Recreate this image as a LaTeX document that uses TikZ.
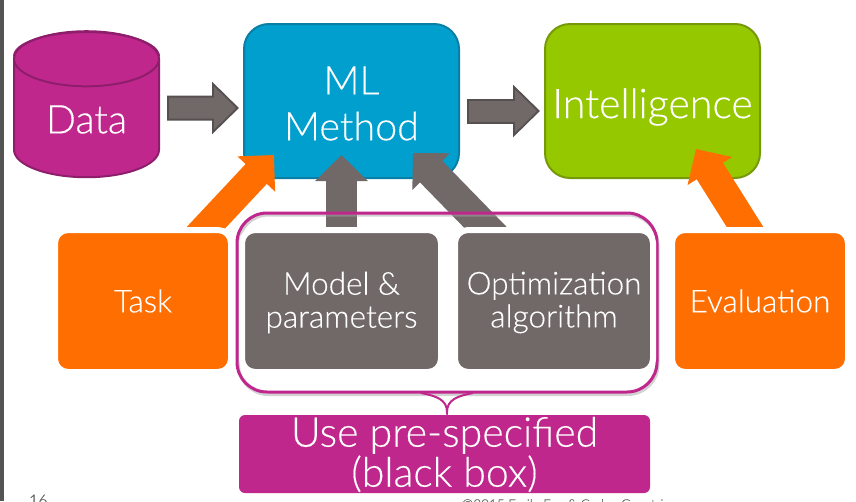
\documentclass[tikz,border=0pt]{standalone}
\usepackage{fontspec}
\usepackage{graphicx}
\setmainfont{Lato}[UprightFont=* Light,UprightFeatures={FakeBold=0.25}]
\usetikzlibrary{arrows.meta,shapes.geometric}
\definecolor{mag}{HTML}{C0278D}
\definecolor{magdark}{HTML}{8E1E6B}
\definecolor{orng}{HTML}{FF6E00}
\definecolor{grn}{HTML}{96C800}
\definecolor{grndark}{HTML}{76990A}
\definecolor{blu}{HTML}{009FCE}
\definecolor{bludark}{HTML}{0A7FA5}
\definecolor{gry}{HTML}{716868}
\definecolor{grydark}{HTML}{565051}
\newcommand{\lowertext}[2]{\raisebox{-#1}[\height][\depth]{#2}}
\tikzset{
  x=1pt,y=-1pt,
  every node/.style={inner sep=0pt,outer sep=0pt,text=white,align=center},
  bigbox/.style={rounded corners=25pt,minimum width=215pt,minimum height=154pt,line width=2pt,font=\fontsize{39.5}{46}\selectfont},
  lowbox/.style={rounded corners=13pt,draw=white,line width=6pt,minimum height=142pt,font=\fontsize{31.5}{33}\selectfont},
  greyout/.style={draw=grydark,line width=25pt,-{Triangle[length=27pt,width=51pt]}},
  greyin/.style={draw=gry,fill=gry,line width=21pt,shorten >=3pt,-{Triangle[length=22pt,width=42pt]}},
  plainarrow/.style={line width=31pt,-{Triangle[length=26pt,width=51pt]}}
}
\begin{document}
\begin{tikzpicture}
\useasboundingbox (0,0) rectangle (856,501);
\fill[white] (0,0) rectangle (856,501);
\fill[black!67] (0,0) rectangle (4,501);
% main shapes
\node[cylinder,shape border rotate=90,aspect=0.68,draw=magdark,fill=mag,line width=2pt,minimum width=145pt,minimum height=146pt,font=\fontsize{39.5}{46}\selectfont] (data) at (86.5,118.5) {\lowertext{1pt}{Data}};
\draw[magdark,line width=2pt] ([shift={(-72.5,-62)}]data.center) arc[start angle=180,end angle=360,x radius=72.5,y radius=24.5];
\node[bigbox,draw=bludark,fill=blu] (ml) at (351.5,101) {\lowertext{2.5pt}{ML}\\\lowertext{2.5pt}{Method}};
\node[bigbox,draw=grndark,fill=grn,font=\fontsize{41}{46}\selectfont] (intel) at (652.5,101) {\lowertext{6pt}{Intelligence}};
% helper named anchors for the hidden boxes
\node[minimum width=170pt,minimum height=136pt] (task) at (143,301) {};
\node[minimum width=193pt,minimum height=136pt] (model) at (341.5,301) {};
\node[minimum width=192pt,minimum height=136pt] (opt) at (554,301) {};
\node[minimum width=170pt,minimum height=136pt] (eval) at (760,301) {};
% connectors
\draw[greyout] ([shift={(8,-10.5)}]data.east) -- ([shift={(-5,7)}]ml.west);
\draw[greyin] ([shift={(10,-10.5)}]data.east) -- ([shift={(-5,7)}]ml.west);
\draw[greyout] ([shift={(8,10)}]ml.east) -- ([shift={(-5,10)}]intel.west);
\draw[greyin] ([shift={(10,10)}]ml.east) -- ([shift={(-5,10)}]intel.west);
\draw[orng,line width=29pt,-{Triangle[length=26pt,width=50pt]}] ([shift={(42,17)}]task.north) -- ([shift={(-77.5,-23)}]ml.south);
\draw[orng,plainarrow] ([shift={(-0.5,17)}]eval.north) -- ([shift={(43.5,-29)}]intel.south);
\draw[gry,plainarrow] (model.center) -- ([shift={(0,-23)}]ml.south -| model.north);
\draw[gry,plainarrow] ([shift={(-46.5,17)}]opt.north) -- ([shift={(61.5,-25)}]ml.south);
% group outline with shadow
\draw[black!35,line width=3pt,opacity=.5,rounded corners=30pt] (238.5,215) rectangle (658,394.5);
\draw[mag,line width=3pt,rounded corners=30pt] (237,213) rectangle (657,392);
\coordinate (groupsouth) at (447,392);
% lower boxes, on top of the connector tails
\node[lowbox,minimum width=176pt,fill=orng] at (task) {Task};
\node[lowbox,minimum width=199pt,fill=gry] at (model) {\lowertext{1.5pt}{Model \&}\\\lowertext{1.5pt}{parameters}};
\node[lowbox,minimum width=198pt,fill=gry] at (opt) {\lowertext{1.5pt}{Optimization}\\\lowertext{1.5pt}{algorithm}};
\node[lowbox,minimum width=176pt,fill=orng] at (eval) {Evaluation};
% brace and caption
\node[fill=mag,rounded corners=6pt,minimum width=411pt,minimum height=78pt,font=\fontsize{41}{41}\selectfont] (box) at (444.5,454) {\lowertext{1pt}{Use pre-specified}\\(black box)};
\draw[mag,line width=2pt] ([shift={(-26,1)}]groupsouth) .. controls ([shift={(-10,4)}]groupsouth) and ([shift={(0,8)}]groupsouth) .. ([shift={(0,20)}]groupsouth) .. controls ([shift={(0,8)}]groupsouth) and ([shift={(10,4)}]groupsouth) .. ([shift={(26,1)}]groupsouth);
% footer
\node[text=black!60,font=\fontsize{16}{16}\selectfont,anchor=base west] (pagenum) at (29,506) {16};
\node[text=black!60,font=\fontsize{13.5}{14}\selectfont,anchor=base west] (copy) at (462,509) {©2015 Emily Fox \& Carlos Guestrin};
\end{tikzpicture}
\end{document}
